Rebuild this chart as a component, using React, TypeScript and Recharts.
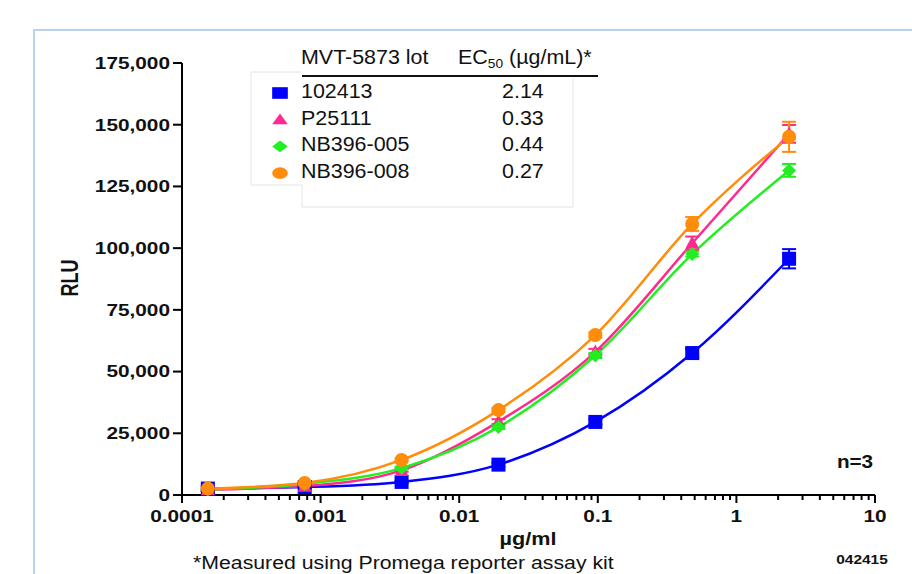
import React from 'react';
import { ComposedChart, Line, Scatter, XAxis, YAxis, ErrorBar } from 'recharts';

// concentrations (µg/ml), 5-fold dilutions
const conc = [0.0001536, 0.000768, 0.00384, 0.0192, 0.096, 0.48, 2.4];

const lots = ['102413', 'P25111', 'NB396-005', 'NB396-008'];
const ec50 = ['2.14', '0.33', '0.44', '0.27'];

const rlu102413 = [2600, 3200, 5300, 12300, 29600, 57500, 95700];
const err102413 = [1000, 500, 500, 800, 1000, 1800, 3900];
const rluP25111 = [2200, 3600, 10000, 29700, 58000, 102000, 146300];
const errP25111 = [400, 400, 600, 1000, 1200, 2700, 3600];
const rluNB005 = [2300, 4500, 10900, 27500, 56500, 97600, 131500];
const errNB005 = [400, 400, 600, 800, 1000, 1000, 2600];
const rluNB008 = [2600, 4900, 14200, 34400, 64800, 109800, 145100];
const errNB008 = [500, 500, 600, 800, 1000, 2800, 6100];

const colors = ['#0000ff', '#ff2a8c', '#22ee22', '#ff8c0a'];
const shapes = ['square', 'triangle', 'diamond', 'circle'];
const values = [rlu102413, rluP25111, rluNB005, rluNB008];
const errors = [err102413, errP25111, errNB005, errNB008];

const xMajor = [0.0001, 0.001, 0.01, 0.1, 1, 10];
const xMajorLabels = ['0.0001', '0.001', '0.01', '0.1', '1', '10'];
const xMinorMultipliers = [2, 3, 4, 5, 6, 7, 8, 9];
const xMinor = xMajor.slice(0, -1).flatMap((d) => xMinorMultipliers.map((m) => m * d));
const xTicks = [...xMajor, ...xMinor].sort((a, b) => a - b);

const yTicks = [0, 25000, 50000, 75000, 100000, 125000, 150000, 175000];
const yTickLabels = ['0', '25,000', '50,000', '75,000', '100,000', '125,000', '150,000', '175,000'];

const FONT = "Arial, 'Liberation Sans', Helvetica, sans-serif";

const series = lots.map((lot, i) => ({
  lot,
  color: colors[i],
  shape: shapes[i],
  data: conc.map((x, j) => ({ x, y: values[i][j], e: errors[i][j] })),
}));

function Marker({ kind, cx, cy, color, s = 7, sx = 1 }: any) {
  if (kind === 'square') return <rect x={cx - s * sx} y={cy - s} width={2 * s * sx} height={2 * s} fill={color} />;
  if (kind === 'triangle')
    return <polygon points={`${cx},${cy - s * 1.05} ${cx + s * sx},${cy + s * 0.8} ${cx - s * sx},${cy + s * 0.8}`} fill={color} />;
  if (kind === 'diamond')
    return <polygon points={`${cx},${cy - s} ${cx + s * sx},${cy} ${cx},${cy + s} ${cx - s * sx},${cy}`} fill={color} />;
  return <ellipse cx={cx} cy={cy} rx={s * sx} ry={s} fill={color} />;
}

function ST({ x, y, sx = 1.3, anchor = 'middle', size = 16, weight = 'bold', children, rotate = 0, fill = '#111' }: any) {
  return (
    <text
      transform={`translate(${x},${y}) scale(${sx},1)${rotate ? ` rotate(${rotate})` : ''}`}
      textAnchor={anchor}
      fontSize={size}
      fontWeight={weight}
      fontFamily={FONT}
      fill={fill}
    >
      {children}
    </text>
  );
}

function XTick(props: any) {
  const { x, y, payload } = props;
  const v = payload.value;
  const idx = xMajor.findIndex((m) => Math.abs(m - v) / m < 1e-6);
  const major = idx >= 0;
  return (
    <g>
      <line x1={x} x2={x} y1={y} y2={y + (major ? 8 : 5)} stroke="#000" strokeWidth={2} />
      {major && (
        <ST x={x} y={y + 27} size={16}>
          {xMajorLabels[idx]}
        </ST>
      )}
    </g>
  );
}

function YTick(props: any) {
  const { x, y, payload } = props;
  const idx = yTicks.indexOf(payload.value);
  return (
    <g>
      <line x1={x - 9} x2={x} y1={y} y2={y} stroke="#000" strokeWidth={2} />
      <ST x={x - 12} y={y + 5.8} anchor="end" size={16}>
        {yTickLabels[idx]}
      </ST>
    </g>
  );
}

export default function App() {
  return (
    <div style={{ position: 'absolute', left: 0, top: 0, width: 912, height: 574, background: '#fff', overflow: 'hidden' }}>
      <div style={{ position: 'absolute', left: 0, top: 0 }}>
        <ComposedChart width={912} height={574} margin={{ top: 63, right: 37, bottom: 0, left: 0 }}>
          <XAxis
            type="number"
            dataKey="x"
            scale="log"
            domain={[0.0001, 10]}
            ticks={xTicks}
            allowDataOverflow
            height={79}
            tickSize={0}
            tickMargin={0}
            tickLine={false}
            interval={0}
            axisLine={{ stroke: '#000', strokeWidth: 2 }}
            tick={<XTick />}
          />
          <YAxis
            type="number"
            dataKey="y"
            domain={[0, 175000]}
            ticks={yTicks}
            width={182}
            tickSize={0}
            tickMargin={0}
            tickLine={false}
            interval={0}
            axisLine={{ stroke: '#000', strokeWidth: 2 }}
            tick={<YTick />}
          />
          {series.map((s) => (
            <Line
              key={'l' + s.lot}
              data={s.data}
              dataKey="y"
              type="monotone"
              stroke={s.color}
              strokeWidth={2.5}
              dot={false}
              activeDot={false}
              isAnimationActive={false}
            />
          ))}
          {series.map((s) => (
            <Scatter
              key={'s' + s.lot}
              data={s.data}
              dataKey="y"
              isAnimationActive={false}
              shape={(p: any) => <Marker kind={s.shape} cx={p.cx} cy={p.cy} color={s.color} s={7} />}
            >
              <ErrorBar dataKey="e" direction="y" width={7} stroke={s.color} strokeWidth={2} />
            </Scatter>
          ))}
        </ComposedChart>
      </div>
      <svg width={912} height={574} style={{ position: 'absolute', left: 0, top: 0, pointerEvents: 'none' }}>
        {/* frame */}
        <path d="M34 574 V30 H912" fill="none" stroke="#b9d1ee" strokeWidth={2} />
        {/* legend box */}
        <path d="M302 72 H251 V185 H302 V207 H573 V78" fill="none" stroke="#e4e4e4" strokeWidth={1} />
        <rect x={302} y={40} width={296} height={34} fill="#fff" />
        <ST x={301} y={64} sx={1.1} anchor="start" size={19.5} weight="normal">
          MVT-5873 lot
        </ST>
        <text
          transform="translate(458,64) scale(1.1,1)"
          fontSize={19.5}
          fontFamily={FONT}
          fill="#111"
        >
          EC
          <tspan fontSize={12.5} dy={4}>50</tspan>
          <tspan dy={-4}> (µg/mL)*</tspan>
        </text>
        <line x1={302} x2={598} y1={76} y2={76} stroke="#111" strokeWidth={2} />
        {series.map((s, i) => {
          const yb = 98 + i * 26.7;
          return (
            <g key={'lg' + i}>
              <Marker kind={s.shape} cx={280} cy={yb - 5} color={s.color} s={5.8} sx={1.35} />
              <ST x={301} y={yb} sx={1.1} anchor="start" size={19.5} weight="normal">
                {s.lot}
              </ST>
              <ST x={502} y={yb} sx={1.1} anchor="start" size={19.5} weight="normal">
                {ec50[i]}
              </ST>
            </g>
          );
        })}
        {/* axis titles */}
        <ST x={70} y={278} sx={1.3} size={18} rotate={-90}>
          <tspan dy={6.5}>RLU</tspan>
        </ST>
        <ST x={528} y={545} sx={1.2} size={18}>
          µg/ml
        </ST>
        <ST x={855} y={468} sx={1.15} size={18}>
          n=3
        </ST>
        <ST x={862} y={564} sx={1.24} size={12.5}>
          042415
        </ST>
        <ST x={193} y={569} sx={1.15} anchor="start" size={18.5} weight="normal">
          *Measured using Promega reporter assay kit
        </ST>
      </svg>
    </div>
  );
}
